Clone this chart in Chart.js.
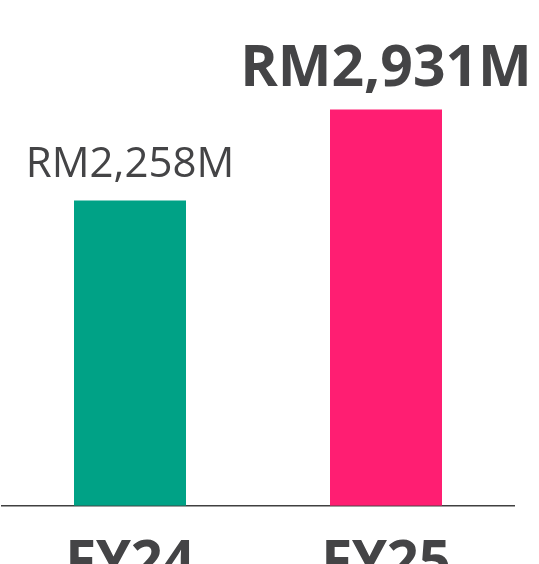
<!DOCTYPE html>
<html>
<head>
<meta charset="utf-8">
<script src="https://cdn.jsdelivr.net/npm/chart.js@4/dist/chart.umd.min.js"></script>
<style>
    html, body { margin: 0; padding: 0; background: #fff; overflow: hidden; }
    #wrap { position: relative; width: 539px; height: 620px; }
</style>
</head>
<body>
<div id="wrap"><canvas id="revenue"></canvas></div>
<script>
// data
var years = ["FY24", "FY25"];
var revenue = [2258, 2931];
var valueLabels = ["RM2,258M", "RM2,931M"];
var barColors = ["#00A286", "#FF1E72"];

var textColor = "#444446";

// labels above bars, first one regular, second one bold and bigger
var valueLabelPlugin = {
    id: "valueLabels",
    afterDatasetsDraw: function (chart) {
        var ctx = chart.ctx;
        var meta = chart.getDatasetMeta(0);
        ctx.save();
        ctx.fillStyle = textColor;
        ctx.textAlign = "center";
        ctx.textBaseline = "alphabetic";
        meta.data.forEach(function (bar, i) {
            ctx.font = i == 1 ? "bold 57px 'Open Sans'" : "42px 'Open Sans'";
            ctx.fillText(valueLabels[i], bar.x, bar.y - 23);
        });
        ctx.restore();
    },
};

var el = document.getElementById("revenue");
var revenueChart = new Chart(el, {
    type: "bar",
    data: {
        labels: years,
        datasets: [
            {
                data: revenue,
                backgroundColor: barColors,
                borderWidth: 0,
                barPercentage: 0.4375,
                categoryPercentage: 1,
            },
        ],
    },
    options: {
        responsive: true,
        maintainAspectRatio: false,
        animation: false,
        layout: { padding: { left: 2, right: 25, top: 0, bottom: 5 } },
        plugins: {
            legend: { display: false },
            tooltip: { enabled: false },
        },
        scales: {
            x: {
                grid: { display: false },
                border: { display: true, color: "#404040", width: 1.5 },
                ticks: {
                    color: textColor,
                    padding: 17,
                    font: { family: "'Open Sans'", size: 56, weight: "bold" },
                },
            },
            y: {
                display: false,
                min: 0,
                max: 3740,
            },
        },
    },
    plugins: [valueLabelPlugin],
});
</script>
</body>
</html>
